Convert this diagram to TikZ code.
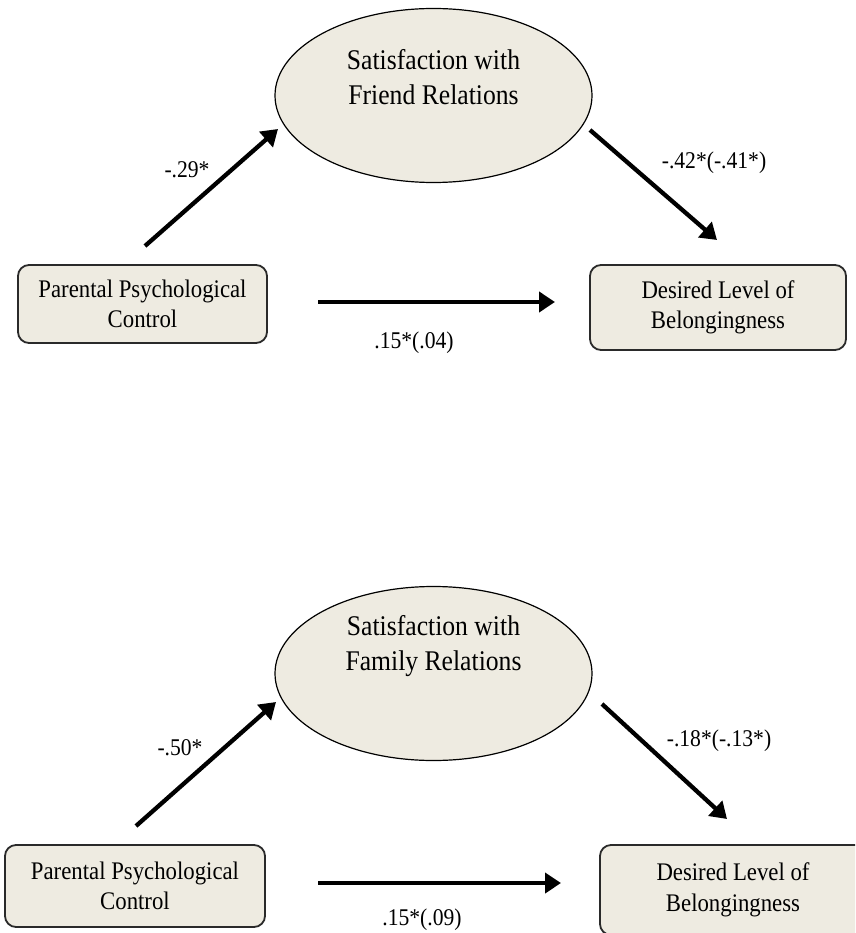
\documentclass[tikz,border=0pt]{standalone}
\usepackage{fontspec}
\setmainfont[FakeStretch=0.9]{Liberation Serif}
\usetikzlibrary{arrows.meta,shapes.geometric}
\definecolor{boxfill}{HTML}{EEEBE1}
\definecolor{boxline}{HTML}{2A2A2A}
\tikzset{
  mediator/.style={ellipse,draw=black,line width=1.2pt,fill=boxfill,
    minimum width=317pt,minimum height=174pt,inner sep=0pt},
  medtext/.style={align=center,font=\fontsize{28.5}{34.5}\selectfont},
  varbox/.style={rectangle,rounded corners=11pt,draw=boxline,line width=1.8pt,
    fill=boxfill,align=center,inner sep=0pt,font=\fontsize{25.3}{30.5}\selectfont},
  path/.style={line width=4.3pt,-{Triangle[length=16pt,width=20pt]}},
  coef/.style={font=\fontsize{24}{28}\selectfont}
}
\begin{document}
\begin{tikzpicture}[x=1pt,y=-1pt]
\useasboundingbox (0,0) rectangle (855,933);
\clip (0,0) rectangle (855,933);

% ---- friend relations model ----
\node[mediator] (m1) at (433.5,95.5) {};
\node[medtext] (m1t) at (433.5,77) {Satisfaction with\\Friend Relations};
\node[varbox,minimum width=249pt,minimum height=78pt] (x1) at (142.5,304) {Parental Psychological\\Control};
\node[varbox,minimum width=256pt,minimum height=85pt] (y1) at (718,307.5) {Desired Level of\\Belongingness};

\coordinate (a1s) at (145,246);  \coordinate (a1e) at (278,129);
\coordinate (b1s) at (590,130);  \coordinate (b1e) at (717,240);
\coordinate (c1s) at (318,302);  \coordinate (c1e) at (555,302);
\draw[path] (a1s) -- (a1e);
\draw[path] (b1s) -- (b1e);
\draw[path] (c1s) -- (c1e);
\node[coef] (la1) at (187,170) {-.29*};
\node[coef] (lb1) at (714,163) {-.42*(-.41*)};
\node[coef] (lc1) at (414,343) {.15*(.04)};

% ---- family relations model ----
\node[mediator] (m2) at (433.5,673.5) {};
\node[medtext] (m2t) at (433.5,646) {Satisfaction with\\Family Relations};
\node[varbox,minimum width=260pt,minimum height=82pt] (x2) at (135,886) {Parental Psychological\\Control};
\node[varbox,minimum width=266pt,minimum height=90pt] (y2) at (733,890) {Desired Level of\\Belongingness};

\coordinate (a2s) at (136,826);  \coordinate (a2e) at (276,702);
\coordinate (b2s) at (602,704);  \coordinate (b2e) at (727,819);
\coordinate (c2s) at (318,883);  \coordinate (c2e) at (561,883);
\draw[path] (a2s) -- (a2e);
\draw[path] (b2s) -- (b2e);
\draw[path] (c2s) -- (c2e);
\node[coef] (la2) at (180,748) {-.50*};
\node[coef] (lb2) at (719,741) {-.18*(-.13*)};
\node[coef] (lc2) at (422,920) {.15*(.09)};
\end{tikzpicture}
\end{document}
